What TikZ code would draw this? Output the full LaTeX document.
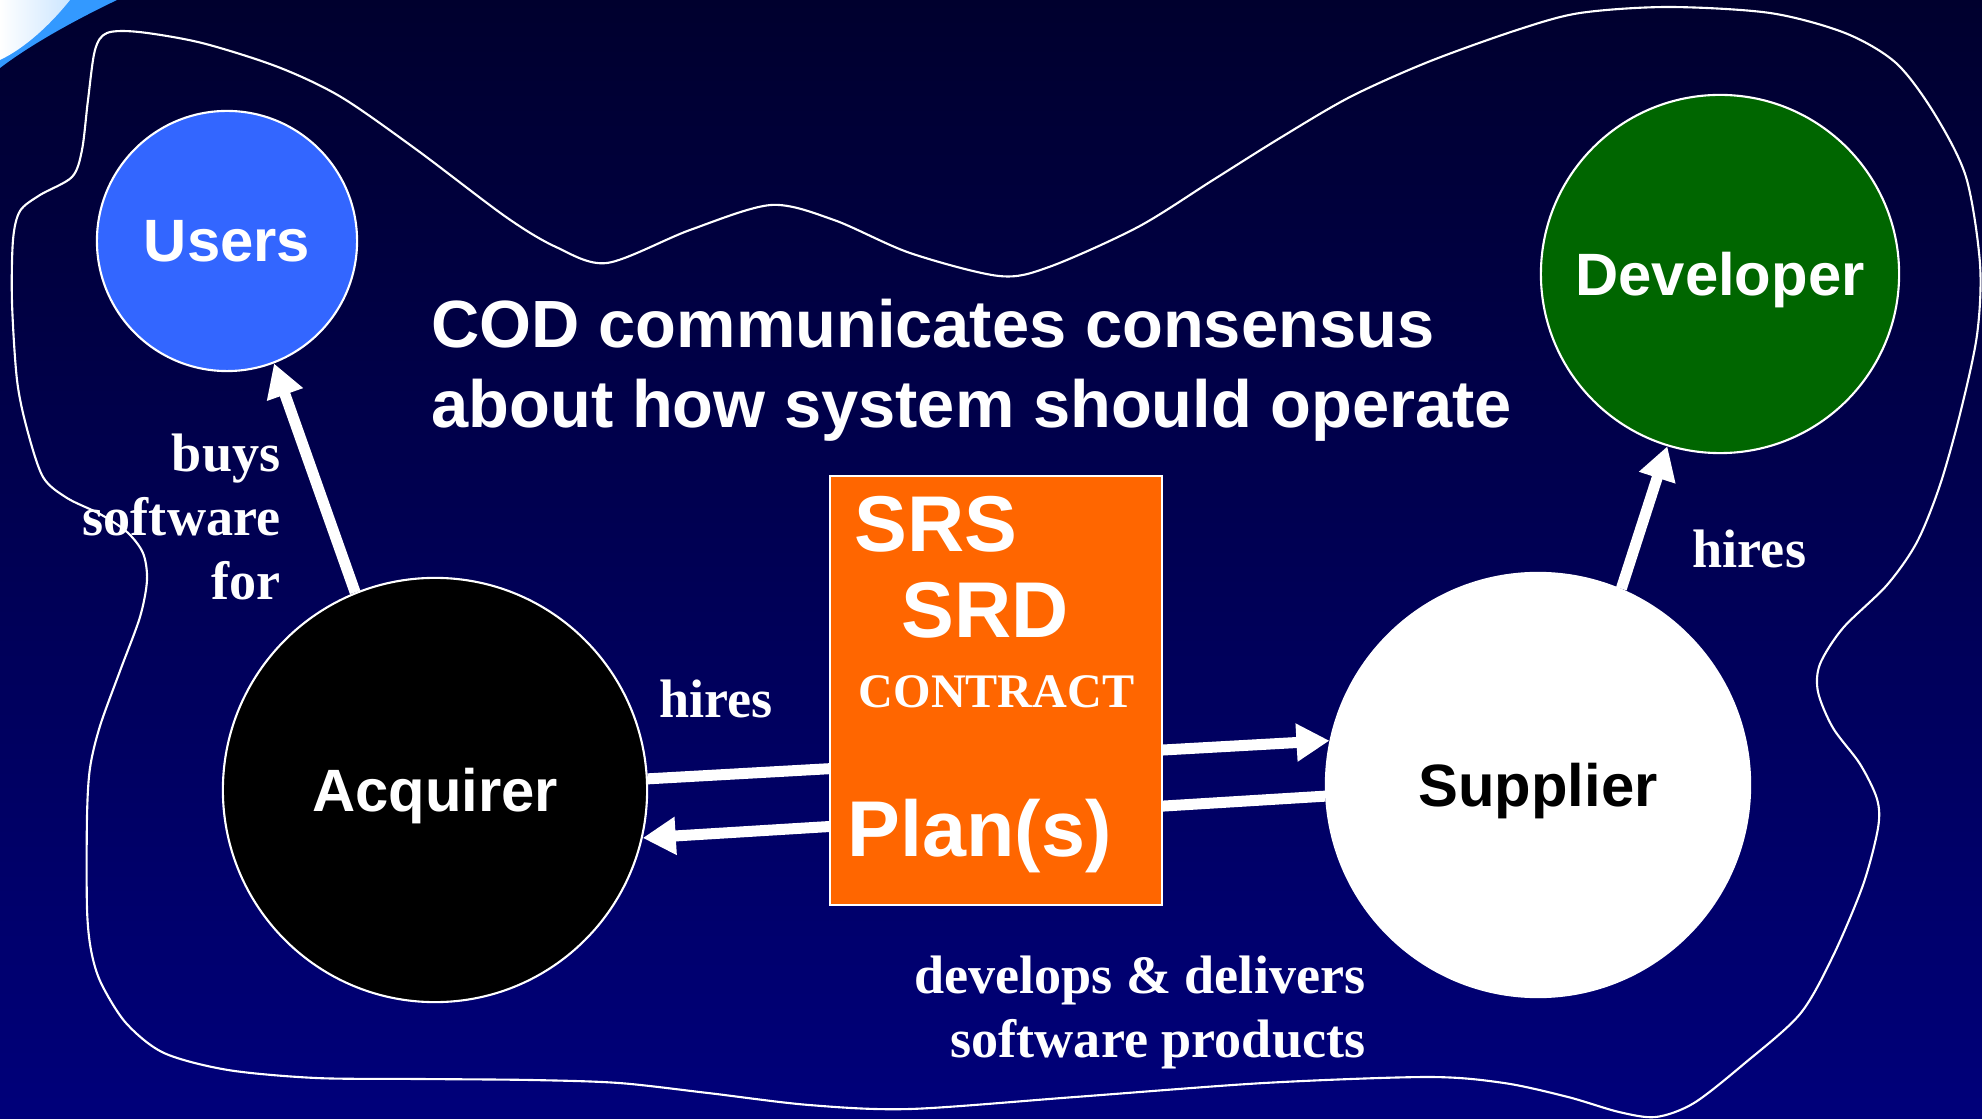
\documentclass[tikz,border=0pt]{standalone}
\usepackage{fontspec}
\setmainfont{Liberation Serif}
\setsansfont{Liberation Sans}
\usetikzlibrary{arrows.meta}
\definecolor{codTop}{RGB}{0,0,46}
\definecolor{codBottom}{RGB}{0,0,122}
\definecolor{codUsers}{HTML}{3366FF}
\definecolor{codDev}{HTML}{006600}
\definecolor{codOrange}{HTML}{FF6600}
\definecolor{codCurl}{HTML}{3399FF}

\begin{document}
\begin{tikzpicture}[
    x=0.01cm, y=-0.01cm,
    party/.style={circle, draw=white, line width=0.6pt, inner sep=0pt, text depth=0pt,
                  font=\sffamily\bfseries\fontsize{17}{20}\selectfont, text=white},
    flow/.style={draw=white, line width=0.11cm, -{Triangle[length=0.33cm, width=0.36cm]}},
    verb/.style={font=\rmfamily\bfseries\fontsize{15.4}{18.2}\selectfont, text=white, inner sep=0pt},
    docname/.style={font=\sffamily\bfseries\fontsize{22.5}{27}\selectfont, text=white,
                    inner sep=0pt, anchor=base west},
  ]
  \useasboundingbox (0,0) rectangle (1982,1119);
  \shade[top color=codTop, bottom color=codBottom] (0,0) rectangle (1982,1119);

  % page curl in the corner
  \fill[codCurl] (0,0) -- (117,0) .. controls (75,20) and (30,45) .. (0,68) -- cycle;
  \shade[left color=white, right color=codCurl!25] (0,0) -- (70,0) .. controls (50,25) and (25,48) .. (0,60) -- cycle;

  % consensus boundary
  \draw[white, line width=0.6pt] plot[smooth cycle] coordinates {
    (20,211) (40,195) (72,177) (82,150) (88,100) (95,50) (107,33) (139,32) (202,43)
    (278,67) (341,97) (417,150) (506,217) (556,247) (607,263) (690,230)
    (771,205) (834,220) (910,253) (999,276) (1049,267) (1138,227) (1213,180)
    (1280,138) (1350,97) (1428,62) (1517,30) (1580,13) (1668,7) (1770,13) (1845,33) (1896,63)
    (1934,113) (1966,177) (1980,264) (1977,335) (1960,414) (1940,485) (1917,542)
    (1887,585) (1843,628) (1820,664) (1818,692) (1833,728) (1860,764) (1877,799)
    (1878,828) (1863,885) (1833,956) (1800,1014) (1745,1063) (1694,1103) (1656,1117)
    (1619,1112) (1568,1097) (1504,1083) (1428,1077) (1264,1083) (1075,1097) (910,1109)
    (809,1105) (708,1093) (619,1083) (531,1080) (420,1079) (316,1078) (228,1070) (164,1053)
    (126,1023) (101,983) (91,950) (87,908) (87,817) (90,768) (100,726) (120,671)
    (140,617) (147,580) (143,553) (127,532) (100,514) (67,498) (43,477) (27,429)
    (17,380) (12,302) (13,240)};

  \node[party, fill=codUsers, minimum size=2.6cm] (users) at (227,241) {Users};
  \node[party, fill=codDev, minimum size=3.58cm] (dev) at (1720,274) {Developer};
  \node[party, fill=black, minimum size=4.24cm] (acq) at (435,790) {Acquirer};
  \node[party, fill=white, text=black, minimum size=4.24cm] (sup) at (1538,785) {Supplier};

  \node[anchor=north west, align=left, inner sep=0pt, text=white,
        font=\sffamily\bfseries\fontsize{19}{22.8}\selectfont] (cod) at (431,298)
    {COD communicates consensus\\about how system should operate};

  \draw[flow] (acq.112) -- (users.-69);
  \draw[flow] (sup.67) -- (dev.253);
  \draw[flow] (acq.3) -- (sup.168);
  \draw[flow] (sup.-177.6) -- (acq.-13);

  \node[draw=white, line width=0.5pt, fill=codOrange, minimum width=3.32cm,
        minimum height=4.29cm, inner sep=0pt] (doc) at (996,690.5) {};
  \node[docname] (srs) at ([xshift=0.25cm, yshift=-0.76cm]doc.north west) {SRS};
  \node[docname] (srd) at ([xshift=0.72cm, yshift=-1.62cm]doc.north west) {SRD};
  \node[anchor=base west, inner sep=0pt, text=white, font=\rmfamily\bfseries\fontsize{13.7}{16}\selectfont]
    (contract) at ([xshift=0.29cm, yshift=-2.32cm]doc.north west) {CONTRACT};
  \node[docname] (plans) at ([xshift=0.18cm, yshift=-3.81cm]doc.north west) {Plan(s)};

  \node[verb, anchor=north east, align=right] (buys) at (281,433) {buys\\software\\for};
  \node[verb, anchor=base west] (hiresA) at (659,718) {hires};
  \node[verb, anchor=base west] (hiresS) at (1692,568) {hires};
  \node[verb, anchor=north east, align=right] (delivers) at (1366,955)
    {develops \& delivers\\software products};
\end{tikzpicture}
\end{document}
